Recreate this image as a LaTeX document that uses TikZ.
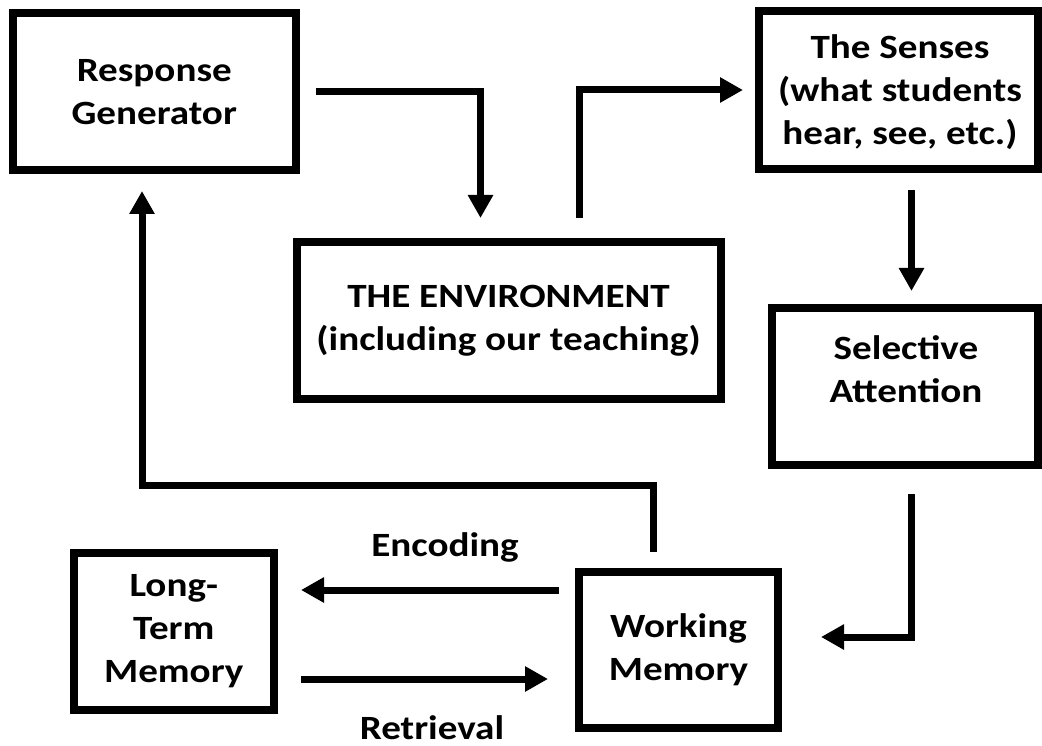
\documentclass[tikz,border=0pt]{standalone}
\usepackage{fontspec}
\setmainfont{Carlito}[FakeStretch=1.15]
\usepackage{tikz}
\usetikzlibrary{arrows.meta}

\tikzset{
	box/.style={draw, line width=8pt, inner sep=0pt},
	flow/.style={line width=7pt, -{Triangle[length=23pt,width=24pt]}},
	txt/.style={font=\fontsize{34}{43}\selectfont\bfseries, align=center, inner sep=0pt}
}

\begin{document}
\begin{tikzpicture}[x=1pt,y=-1pt]
	\useasboundingbox (0,0) rectangle (1042,746);

	% boxes
	\node[box, minimum width=282.5pt, minimum height=156.5pt] (rg) at (154.25,91.75) {};
	\node[box, minimum width=424pt, minimum height=156.5pt] (env) at (508.5,320.25) {};
	\node[box, minimum width=279pt, minimum height=158pt] (senses) at (898.5,90) {};
	\node[box, minimum width=266pt, minimum height=157pt] (sa) at (905,386.5) {};
	\node[box, minimum width=199pt, minimum height=156pt] (wm) at (678.5,649.5) {};
	\node[box, minimum width=200.5pt, minimum height=157pt] (ltm) at (173.75,631.5) {};

	% label
	\node[txt] (rgtxt) at (rg) {Response\\Generator};
	\node[txt] (envtxt) at (env) {THE ENVIRONMENT\\(including our teaching)};
	\node[txt] (sensestxt) at (900,92) {The Senses\\(what students\\hear, see, etc.)};
	\node[txt] (satxt) at (906,369.5) {Selective\\Attention};
	\node[txt] (wmtxt) at (wm) {Working\\Memory};
	\node[txt] (ltmtxt) at (ltm) {Long-\\Term\\Memory};

	% arrows
	\draw[flow] ([xshift=16pt]rg.east) -| ([xshift=-28pt,yshift=20pt]env.north);
	\draw[flow] ([xshift=70.5pt,yshift=20pt]env.north) |- ([xshift=-12pt]senses.west);
	\draw[flow] ([xshift=13pt,yshift=-17pt]senses.south) -- ([xshift=6.5pt,yshift=13pt]sa.north);
	\draw[flow] ([xshift=6pt,yshift=-25pt]sa.south) |- ([xshift=39pt,yshift=12.5pt]wm.east);
	\draw[flow] ([xshift=-25pt,yshift=15.5pt]wm.north) -- ++(0,-66.5) -| ([xshift=-12.25pt,yshift=-17pt]rg.south);
	\draw[flow] ([xshift=-16pt,yshift=59.5pt]wm.west) -- ([xshift=23pt,yshift=41.5pt]ltm.east);
	\draw[flow] ([xshift=23pt,yshift=-47.5pt]ltm.east) -- ([xshift=-27pt,yshift=-29.5pt]wm.west);

	% x
	\node[txt, anchor=base] (enc) at (445,556) {Encoding};
	\node[txt, anchor=base] (ret) at (432,739) {Retrieval};
\end{tikzpicture}
\end{document}
